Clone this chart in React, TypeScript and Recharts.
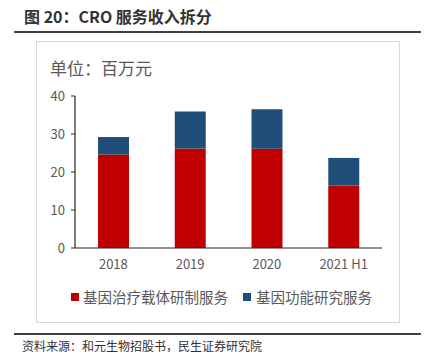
import { BarChart, Bar, XAxis, YAxis } from 'recharts';

const categories = ['2018', '2019', '2020', '2021 H1'];
const vectorService = [24.6, 26.2, 26.1, 16.4];
const functionService = [4.6, 9.7, 10.4, 7.3];
const yTicks = [0, 10, 20, 30, 40];

const RED = '#C00000';
const BLUE = '#1F4E79';
const GRAY = '#595959';
const FONT = '"Noto Sans CJK SC", "Noto Sans", sans-serif';

const chartData = categories.map((c, i) => ({
  name: c,
  vector: vectorService[i],
  func: functionService[i],
}));

export default function App() {
  return (
    <div
      style={{
        position: 'absolute',
        left: 0,
        top: 0,
        width: 427,
        height: 360,
        background: '#fff',
        fontFamily: FONT,
        overflow: 'hidden',
      }}
    >
      <div
        style={{
          position: 'absolute',
          left: 24,
          top: 5,
          fontSize: 16,
          fontWeight: 700,
          color: '#333',
          lineHeight: '22px',
        }}
      >
        图 20：CRO 服务收入拆分
      </div>
      <div style={{ position: 'absolute', left: 14, top: 31, width: 407, height: 1.5, background: '#404040' }} />
      <div
        style={{
          position: 'absolute',
          left: 36,
          top: 41,
          width: 362,
          height: 280,
          border: '1px solid #D9D9D9',
        }}
      />
      <div
        style={{
          position: 'absolute',
          left: 50,
          top: 57,
          fontSize: 17,
          color: GRAY,
          lineHeight: '22px',
        }}
      >
        单位：百万元
      </div>

      <div style={{ position: 'absolute', left: 0, top: 0 }}>
        <BarChart
          width={427}
          height={360}
          data={chartData}
          margin={{ top: 96, right: 45, left: 35, bottom: 82 }}
        >
          <XAxis
            dataKey="name"
            height={30}
            tick={{ fill: GRAY, fontSize: 13, fontFamily: FONT }}
            tickLine={false}
            axisLine={{ stroke: '#262626', strokeWidth: 1.2 }}
            tickMargin={6}
          />
          <YAxis
            width={40}
            domain={[0, 40]}
            ticks={yTicks}
            tick={{ fill: GRAY, fontSize: 13, fontFamily: FONT }}
            tickLine={{ stroke: '#262626' }}
            tickSize={4}
            axisLine={{ stroke: '#262626', strokeWidth: 1.2 }}
            tickMargin={6}
          />
          <Bar dataKey="vector" stackId="a" fill={RED} barSize={31} isAnimationActive={false} />
          <Bar dataKey="func" stackId="a" fill={BLUE} barSize={31} isAnimationActive={false} />
        </BarChart>
      </div>

      <div
        style={{
          position: 'absolute',
          left: 71,
          top: 287,
          display: 'flex',
          alignItems: 'center',
          fontSize: 14.5,
          color: GRAY,
          lineHeight: '20px',
        }}
      >
        <span style={{ display: 'inline-block', width: 8, height: 8, background: RED, marginRight: 4 }} />
        <span>基因治疗载体研制服务</span>
        <span style={{ display: 'inline-block', width: 8, height: 8, background: BLUE, marginLeft: 15, marginRight: 5 }} />
        <span>基因功能研究服务</span>
      </div>

      <div style={{ position: 'absolute', left: 14, top: 333, width: 407, height: 1.5, background: '#404040' }} />
      <div
        style={{
          position: 'absolute',
          left: 22,
          top: 337,
          fontSize: 12,
          color: '#333',
          lineHeight: '18px',
        }}
      >
        资料来源：和元生物招股书，民生证券研究院
      </div>
    </div>
  );
}
